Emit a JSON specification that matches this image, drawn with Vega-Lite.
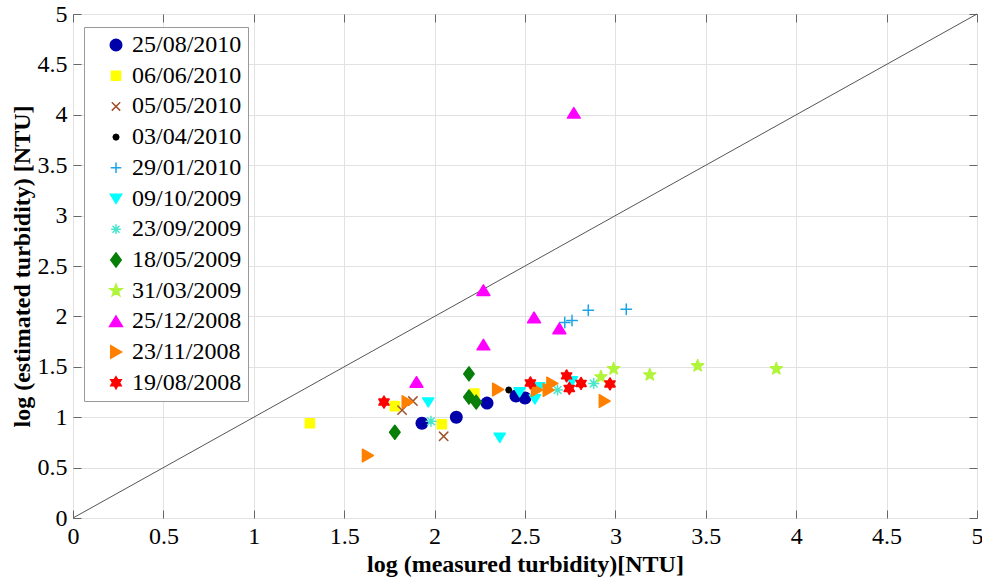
{
  "$schema": "https://vega.github.io/schema/vega-lite/v6.json",
  "width": 904,
  "height": 504,
  "autosize": {"type": "none"},
  "padding": {"left": 73, "top": 14, "right": 5, "bottom": 59},
  "background": "white",
  "config": {
    "view": {"stroke": "#666666", "strokeWidth": 1},
    "font": "Liberation Serif",
    "axis": {
      "labelFont": "Liberation Serif",
      "labelFontSize": 24,
      "labelColor": "black",
      "titleFont": "Liberation Serif",
      "titleFontSize": 24,
      "titleFontWeight": "bold",
      "titleColor": "black",
      "domain": false,
      "tickColor": "#666666",
      "tickSize": -8,
      "labelFlush": false,
      "gridColor": "#e2e2e2",
      "gridWidth": 1
    }
  },
  "datasets": {
    "diag": [{"mx": 0, "ey": 0}, {"mx": 5, "ey": 5}],
    "pts": [
      {"date": "25/08/2010", "measured": 1.93, "estimated": 0.94},
      {"date": "25/08/2010", "measured": 2.12, "estimated": 1.00},
      {"date": "25/08/2010", "measured": 2.29, "estimated": 1.14},
      {"date": "25/08/2010", "measured": 2.45, "estimated": 1.21},
      {"date": "25/08/2010", "measured": 2.50, "estimated": 1.19},
      {"date": "06/06/2010", "measured": 1.31, "estimated": 0.94},
      {"date": "06/06/2010", "measured": 1.78, "estimated": 1.11},
      {"date": "06/06/2010", "measured": 2.04, "estimated": 0.93},
      {"date": "06/06/2010", "measured": 2.22, "estimated": 1.235},
      {"date": "05/05/2010", "measured": 1.82, "estimated": 1.07},
      {"date": "05/05/2010", "measured": 1.88, "estimated": 1.16},
      {"date": "05/05/2010", "measured": 2.05, "estimated": 0.81},
      {"date": "03/04/2010", "measured": 2.41, "estimated": 1.27},
      {"date": "29/01/2010", "measured": 2.72, "estimated": 1.94},
      {"date": "29/01/2010", "measured": 2.76, "estimated": 1.96},
      {"date": "29/01/2010", "measured": 2.85, "estimated": 2.06},
      {"date": "29/01/2010", "measured": 3.06, "estimated": 2.07},
      {"date": "09/10/2009", "measured": 1.965, "estimated": 1.15},
      {"date": "09/10/2009", "measured": 2.36, "estimated": 0.80},
      {"date": "09/10/2009", "measured": 2.47, "estimated": 1.25},
      {"date": "09/10/2009", "measured": 2.555, "estimated": 1.18},
      {"date": "09/10/2009", "measured": 2.58, "estimated": 1.30},
      {"date": "09/10/2009", "measured": 2.76, "estimated": 1.36},
      {"date": "23/09/2009", "measured": 1.98, "estimated": 0.96},
      {"date": "23/09/2009", "measured": 2.68, "estimated": 1.27},
      {"date": "23/09/2009", "measured": 2.88, "estimated": 1.335},
      {"date": "18/05/2009", "measured": 1.78, "estimated": 0.85},
      {"date": "18/05/2009", "measured": 2.19, "estimated": 1.43},
      {"date": "18/05/2009", "measured": 2.19, "estimated": 1.20},
      {"date": "18/05/2009", "measured": 2.23, "estimated": 1.15},
      {"date": "31/03/2009", "measured": 2.92, "estimated": 1.40},
      {"date": "31/03/2009", "measured": 2.99, "estimated": 1.48},
      {"date": "31/03/2009", "measured": 3.19, "estimated": 1.42},
      {"date": "31/03/2009", "measured": 3.455, "estimated": 1.51},
      {"date": "31/03/2009", "measured": 3.89, "estimated": 1.48},
      {"date": "25/12/2008", "measured": 1.90, "estimated": 1.35},
      {"date": "25/12/2008", "measured": 2.27, "estimated": 1.72},
      {"date": "25/12/2008", "measured": 2.27, "estimated": 2.26},
      {"date": "25/12/2008", "measured": 2.55, "estimated": 1.99},
      {"date": "25/12/2008", "measured": 2.69, "estimated": 1.88},
      {"date": "25/12/2008", "measured": 2.77, "estimated": 4.02},
      {"date": "23/11/2008", "measured": 1.63, "estimated": 0.62},
      {"date": "23/11/2008", "measured": 1.85, "estimated": 1.15},
      {"date": "23/11/2008", "measured": 2.35, "estimated": 1.275},
      {"date": "23/11/2008", "measured": 2.565, "estimated": 1.27},
      {"date": "23/11/2008", "measured": 2.63, "estimated": 1.27},
      {"date": "23/11/2008", "measured": 2.65, "estimated": 1.335},
      {"date": "23/11/2008", "measured": 2.94, "estimated": 1.16},
      {"date": "19/08/2008", "measured": 1.72, "estimated": 1.15},
      {"date": "19/08/2008", "measured": 2.53, "estimated": 1.34},
      {"date": "19/08/2008", "measured": 2.73, "estimated": 1.41},
      {"date": "19/08/2008", "measured": 2.745, "estimated": 1.285},
      {"date": "19/08/2008", "measured": 2.81, "estimated": 1.335},
      {"date": "19/08/2008", "measured": 2.97, "estimated": 1.33}
    ]
  },
  "layer": [
    {
      "data": {"name": "diag"},
      "mark": {"type": "line", "color": "#555555", "strokeWidth": 1},
      "encoding": {
        "x": {
          "field": "mx", "type": "quantitative",
          "scale": {"domain": [0, 5], "nice": false, "zero": false},
          "axis": {
            "orient": "bottom",
            "title": "log (measured turbidity)[NTU]",
            "values": [0, 0.5, 1, 1.5, 2, 2.5, 3, 3.5, 4, 4.5, 5],
            "format": "~g",
            "grid": true,
            "labelPadding": 14,
            "titleBaseline": "alphabetic",
            "titleY": 53
          }
        },
        "y": {
          "field": "ey", "type": "quantitative",
          "scale": {"domain": [0, 5], "nice": false, "zero": false},
          "axis": {
            "orient": "left",
            "title": "log (estimated turbidity) [NTU]",
            "values": [0, 0.5, 1, 1.5, 2, 2.5, 3, 3.5, 4, 4.5, 5],
            "format": "~g",
            "grid": true,
            "labelPadding": 14,
            "titleBaseline": "alphabetic",
            "titleX": -44
          }
        }
      }
    },
    {
      "data": {"name": "pts"},
      "mark": {"type": "point", "filled": true, "opacity": 1, "size": 196, "strokeWidth": 1.5, "strokeJoin": "round", "strokeCap": "round"},
      "encoding": {
        "x": {
          "field": "measured", "type": "quantitative",
          "axis": {
            "orient": "top", "title": null, "labels": false, "grid": false,
            "values": [0, 0.5, 1, 1.5, 2, 2.5, 3, 3.5, 4, 4.5, 5]
          }
        },
        "y": {
          "field": "estimated", "type": "quantitative",
          "axis": {
            "orient": "right", "title": null, "labels": false, "grid": false,
            "values": [0, 0.5, 1, 1.5, 2, 2.5, 3, 3.5, 4, 4.5, 5]
          }
        },
        "fill": {
          "field": "date", "type": "nominal",
          "scale": {
            "domain": ["25/08/2010", "06/06/2010", "05/05/2010", "03/04/2010", "29/01/2010", "09/10/2009", "23/09/2009", "18/05/2009", "31/03/2009", "25/12/2008", "23/11/2008", "19/08/2008"],
            "range": ["#0000AA", "#FFFF00", "#A0522D", "#000000", "#1CA4E8", "#00FFFF", "#48E6CC", "#087F08", "#B0F53A", "#FF00FF", "#FF8000", "#FF0000"]
          },
          "legend": {
            "orient": "none", "legendX": 11, "legendY": 13, "title": null,
            "labelFont": "Liberation Serif", "labelFontSize": 24, "labelColor": "black",
            "symbolSize": 196, "symbolStrokeWidth": 1.5, "rowPadding": 6.7,
            "padding": 6, "symbolOffset": 14, "labelOffset": 4,
            "strokeColor": "#999999", "fillColor": "white", "cornerRadius": 0
          }
        },
        "stroke": {
          "field": "date", "type": "nominal",
          "scale": {
            "domain": ["25/08/2010", "06/06/2010", "05/05/2010", "03/04/2010", "29/01/2010", "09/10/2009", "23/09/2009", "18/05/2009", "31/03/2009", "25/12/2008", "23/11/2008", "19/08/2008"],
            "range": ["#0000AA", "#FFFF00", "#A0522D", "#000000", "#1CA4E8", "#00FFFF", "#48E6CC", "#087F08", "#B0F53A", "#FF00FF", "#FF8000", "#FF0000"]
          },
          "legend": {
            "orient": "none", "legendX": 11, "legendY": 13, "title": null,
            "labelFont": "Liberation Serif", "labelFontSize": 24, "labelColor": "black",
            "symbolSize": 196, "symbolStrokeWidth": 1.5, "rowPadding": 6.7,
            "padding": 6, "symbolOffset": 14, "labelOffset": 4,
            "strokeColor": "#999999", "fillColor": "white", "cornerRadius": 0
          }
        },
        "shape": {
          "field": "date", "type": "nominal",
          "scale": {
            "domain": ["25/08/2010", "06/06/2010", "05/05/2010", "03/04/2010", "29/01/2010", "09/10/2009", "23/09/2009", "18/05/2009", "31/03/2009", "25/12/2008", "23/11/2008", "19/08/2008"],
            "range": [
              "M0.82,0L0.758,0.314L0.58,0.58L0.314,0.758L0,0.82L-0.314,0.758L-0.58,0.58L-0.758,0.314L-0.82,0L-0.758,-0.314L-0.58,-0.58L-0.314,-0.758L0,-0.82L0.314,-0.758L0.58,-0.58L0.758,-0.314Z",
              "M-0.65,-0.65H0.65V0.65H-0.65Z",
              "M-0.6,-0.6L0.6,0.6M0.6,-0.6L-0.6,0.6",
              "M0.4,0L0.283,0.283L0,0.4L-0.283,0.283L-0.4,0L-0.283,-0.283L0,-0.4L0.283,-0.283Z",
              "M-0.75,0H0.75M0,-0.75V0.75",
              "M-0.8,-0.6H0.8L0,0.7Z",
              "M-0.7,0H0.7M0,-0.7V0.7M-0.5,-0.5L0.5,0.5M0.5,-0.5L-0.5,0.5",
              "M0,-1L0.75,0L0,1L-0.75,0Z",
              "M0,-0.9L0.212,-0.292L0.856,-0.278L0.342,0.112L0.529,0.728L0,0.36L-0.529,0.728L-0.342,0.112L-0.856,-0.278L-0.212,-0.292Z",
              "M0,-0.75L0.92,0.75H-0.92Z",
              "M-0.75,-0.9L0.8,0L-0.75,0.9Z",
              "M0,-0.85L0.245,-0.425L0.736,-0.425L0.49,0L0.736,0.425L0.245,0.425L0,0.85L-0.245,0.425L-0.736,0.425L-0.49,0L-0.736,-0.425L-0.245,-0.425Z"
            ]
          },
          "legend": {
            "orient": "none", "legendX": 11, "legendY": 13, "title": null,
            "labelFont": "Liberation Serif", "labelFontSize": 24, "labelColor": "black",
            "symbolSize": 196, "symbolStrokeWidth": 1.5, "rowPadding": 6.7,
            "padding": 6, "symbolOffset": 14, "labelOffset": 4,
            "strokeColor": "#999999", "fillColor": "white", "cornerRadius": 0
          }
        }
      }
    }
  ],
  "resolve": {"axis": {"x": "independent", "y": "independent"}}
}
